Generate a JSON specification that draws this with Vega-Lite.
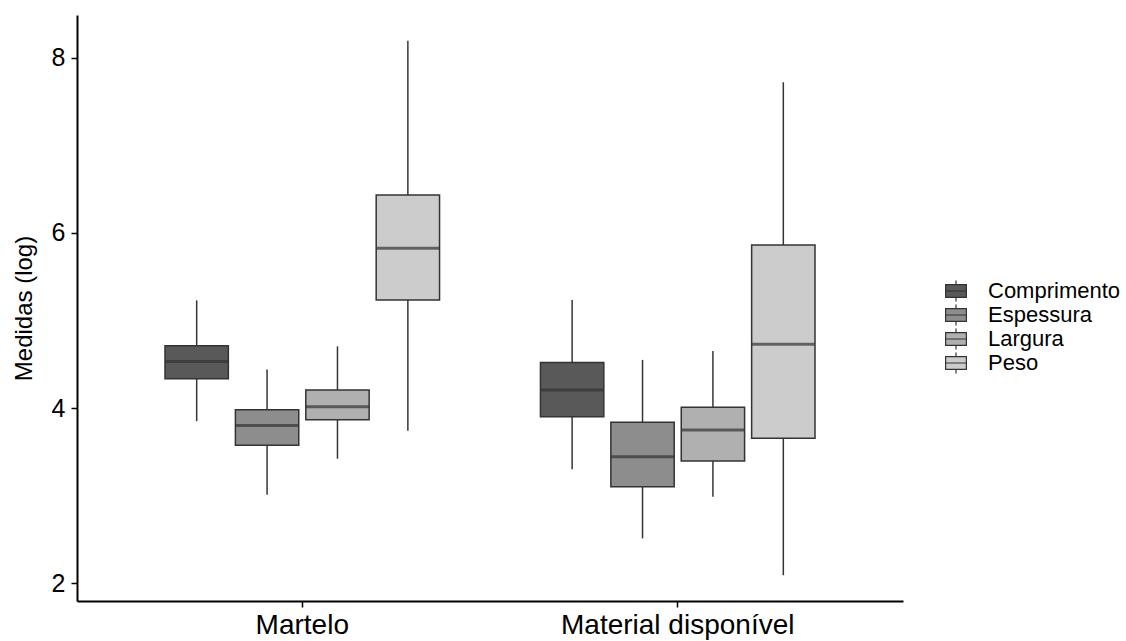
{
  "$schema": "https://vega.github.io/schema/vega-lite/v6.json",
  "width": 826,
  "height": 586,
  "autosize": "none",
  "padding": {"left": 77, "top": 15, "right": 223, "bottom": 40},
  "background": "white",
  "config": {
    "view": {"stroke": null},
    "font": "Liberation Sans",
    "axis": {"grid": false, "domainColor": "black", "domainWidth": 2, "tickColor": "black", "tickWidth": 1.5, "tickSize": 6, "labelColor": "black", "labelFontSize": 25, "titleFontSize": 24, "titleFontWeight": "normal", "titleColor": "black"}
  },
  "data": {
    "values": [
      {"grupo": "Martelo", "medida": "Comprimento", "lower": 3.85, "q1": 4.335, "median": 4.53, "q3": 4.71, "upper": 5.23},
      {"grupo": "Martelo", "medida": "Espessura", "lower": 3.01, "q1": 3.575, "median": 3.8, "q3": 3.98, "upper": 4.44},
      {"grupo": "Martelo", "medida": "Largura", "lower": 3.42, "q1": 3.865, "median": 4.015, "q3": 4.205, "upper": 4.705},
      {"grupo": "Martelo", "medida": "Peso", "lower": 3.74, "q1": 5.235, "median": 5.825, "q3": 6.435, "upper": 8.198},
      {"grupo": "Material disponível", "medida": "Comprimento", "lower": 3.3, "q1": 3.9, "median": 4.205, "q3": 4.52, "upper": 5.234},
      {"grupo": "Material disponível", "medida": "Espessura", "lower": 2.51, "q1": 3.1, "median": 3.443, "q3": 3.837, "upper": 4.55},
      {"grupo": "Material disponível", "medida": "Largura", "lower": 2.986, "q1": 3.394, "median": 3.75, "q3": 4.008, "upper": 4.651},
      {"grupo": "Material disponível", "medida": "Peso", "lower": 2.088, "q1": 3.654, "median": 4.728, "q3": 5.863, "upper": 7.722}
    ]
  },
  "encoding": {
    "x": {
      "field": "grupo", "type": "nominal", "sort": ["Martelo", "Material disponível"],
      "scale": {"paddingInner": 0.25, "paddingOuter": 0.225},
      "axis": {"title": null, "labelAngle": 0, "labelPadding": 4, "labelFontSize": 28, "labelLimit": 0}
    },
    "xOffset": {
      "field": "medida", "type": "nominal", "sort": ["Comprimento", "Espessura", "Largura", "Peso"],
      "scale": {"paddingInner": 0.1, "paddingOuter": 0.05}
    }
  },
  "layer": [
    {
      "mark": {"type": "rule", "color": "#363636", "strokeWidth": 1.5},
      "encoding": {
        "y": {"field": "lower", "type": "quantitative", "scale": {"domain": [1.7943, 8.4914], "nice": false, "zero": false}, "title": "Medidas (log)", "axis": {"values": [2, 4, 6, 8], "format": "d", "labelPadding": 6, "titlePadding": 15}},
        "y2": {"field": "upper"}
      }
    },
    {
      "mark": {"type": "bar", "stroke": "#333333", "strokeWidth": 1.5},
      "encoding": {
        "y": {"field": "q1", "type": "quantitative", "title": "Medidas (log)"},
        "y2": {"field": "q3"},
        "fill": {
          "field": "medida", "type": "nominal",
          "scale": {"domain": ["Comprimento", "Espessura", "Largura", "Peso"], "range": ["#595959", "#8d8d8d", "#b0b0b0", "#cccccc"]},
          "legend": {
            "title": null, "orient": "none", "legendX": 868, "legendY": 265,
            "symbolType": "M-1.3,-0.8H1.3V0.8H-1.3Z M-1.3,0H1.3 M0,-0.8V-1.3 M0,0.8V1.3",
            "symbolSize": 256, "symbolStrokeColor": "#333333", "symbolStrokeWidth": 1.2, "symbolOpacity": 1,
            "labelFontSize": 22, "labelColor": "black", "rowPadding": -6, "labelOffset": 21
          }
        }
      }
    },
    {
      "mark": {"type": "tick", "orient": "horizontal", "color": "#333333", "thickness": 3, "size": 63},
      "encoding": {
        "y": {"field": "median", "type": "quantitative", "title": "Medidas (log)"}
      }
    }
  ]
}
